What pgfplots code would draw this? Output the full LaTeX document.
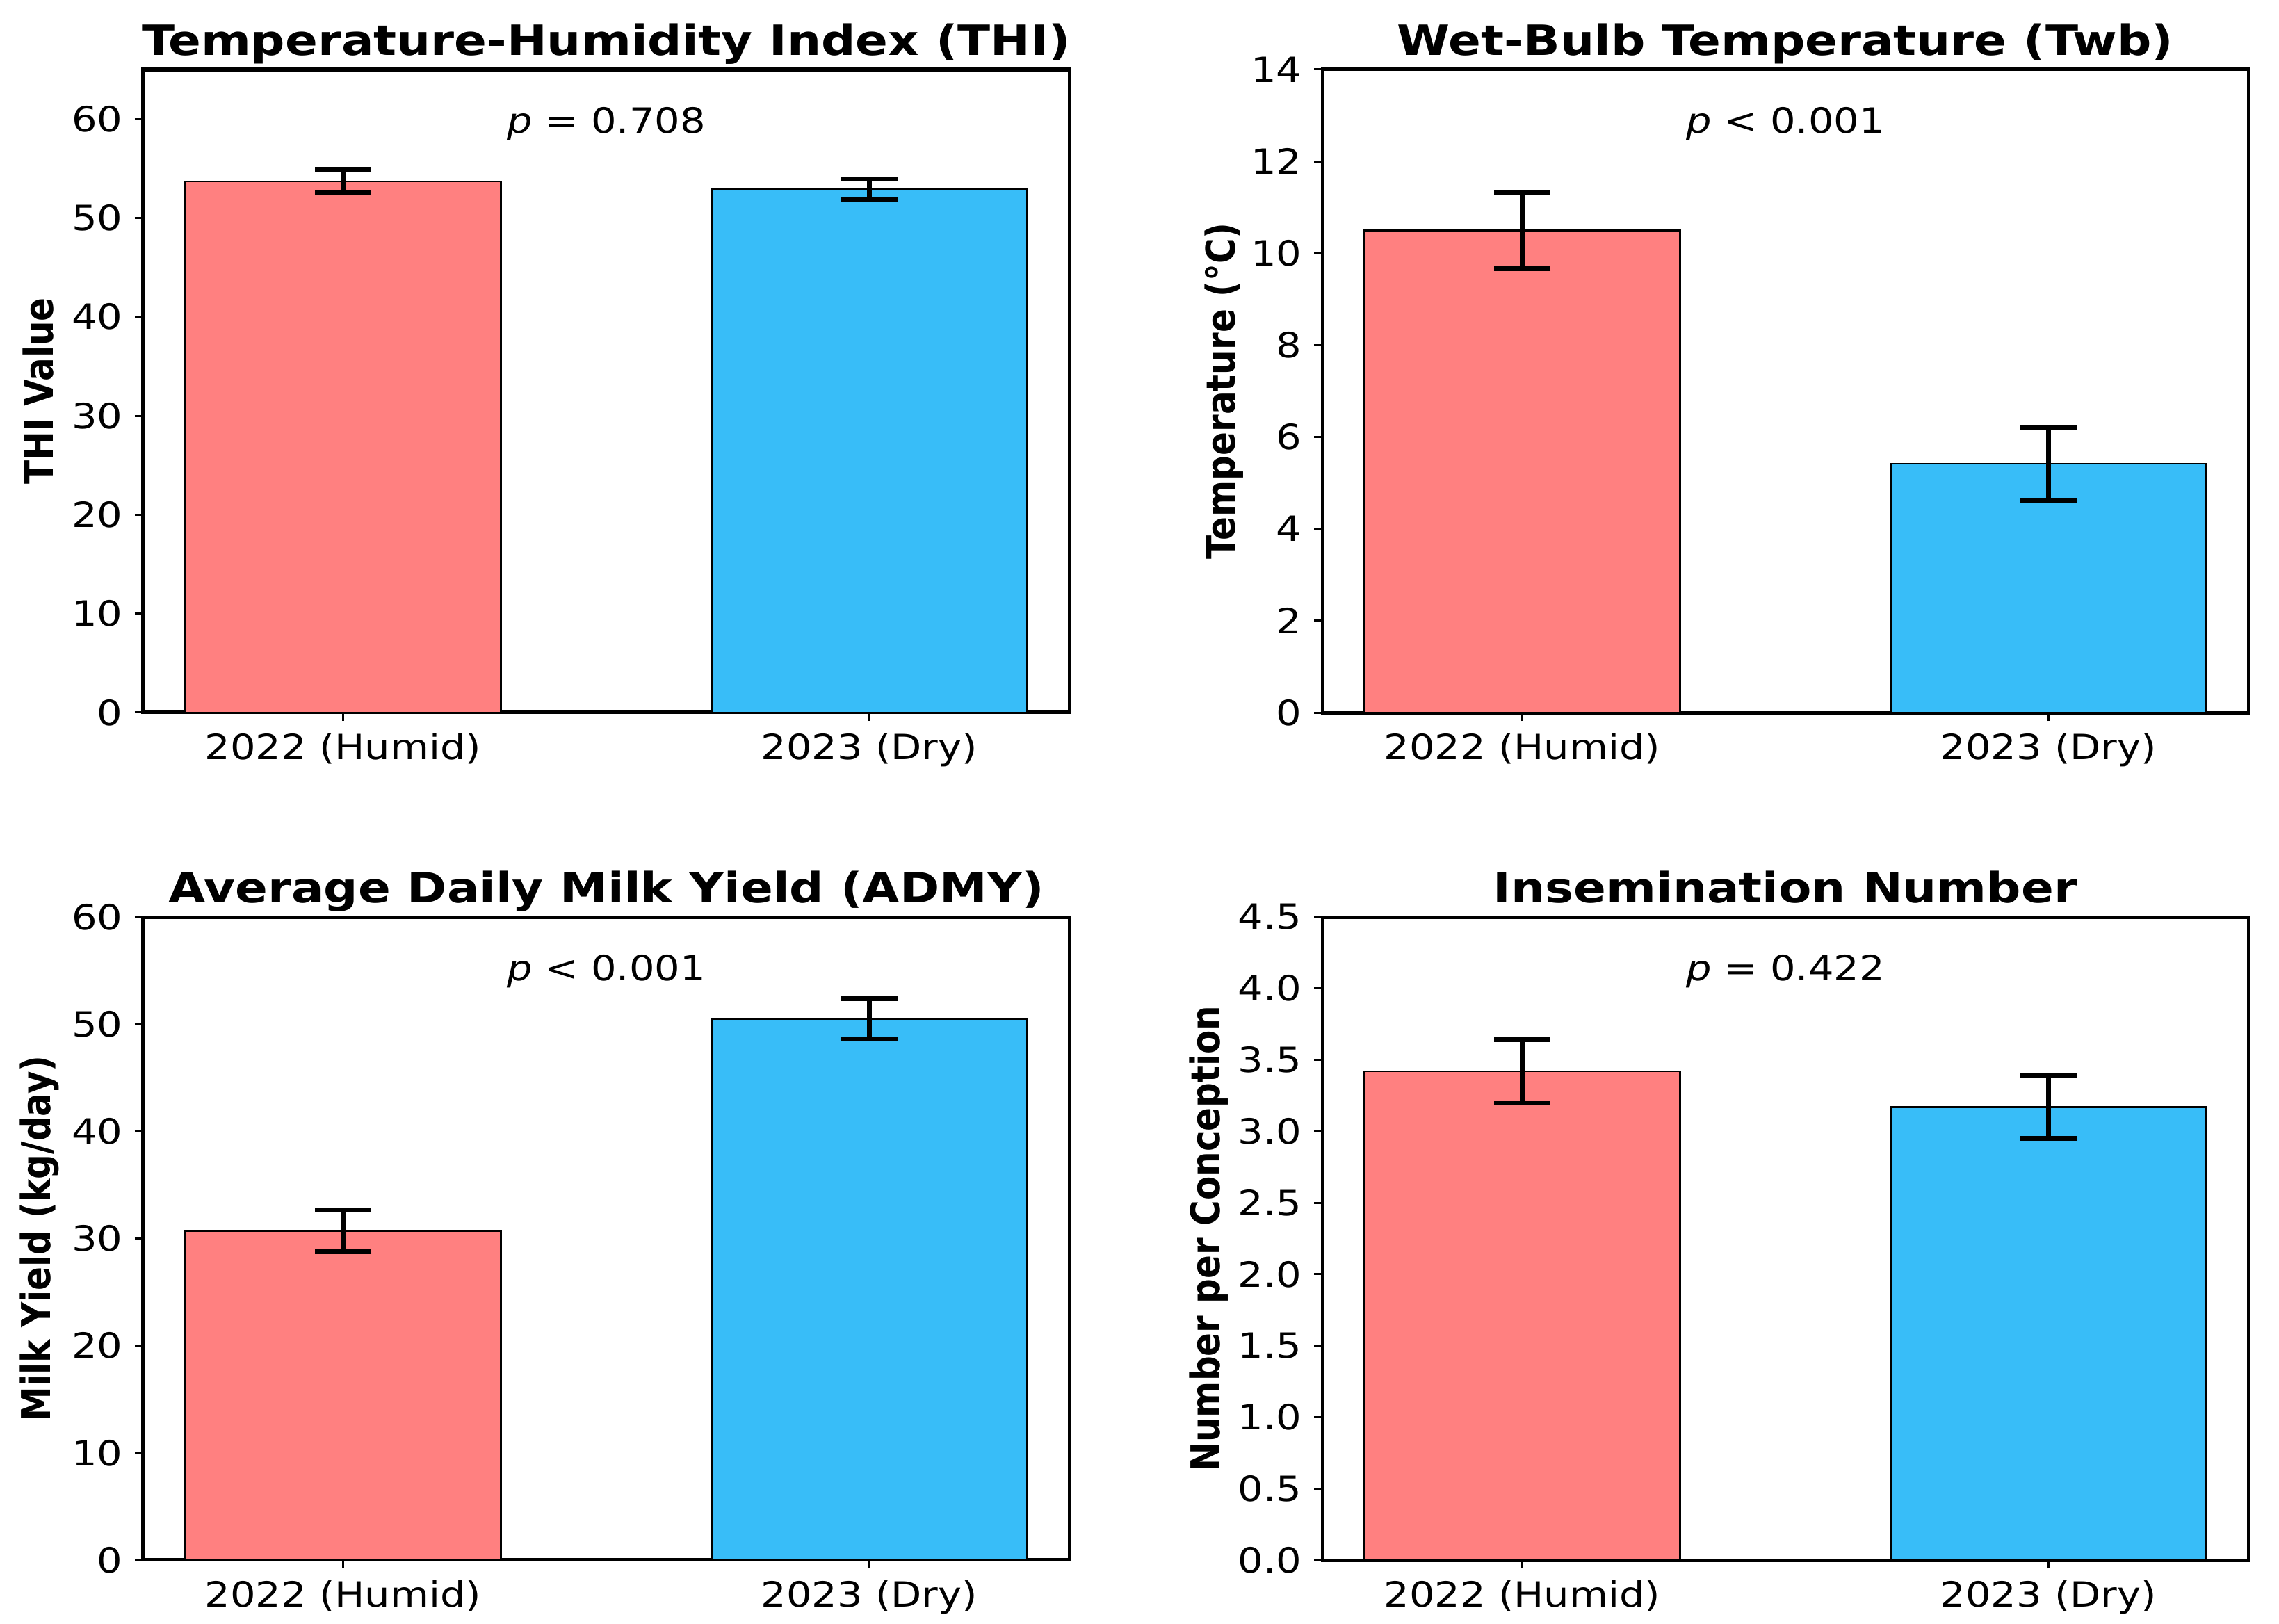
\documentclass[border=0pt]{standalone}
\usepackage{fontspec}
\setmainfont{DejaVu Sans}[FakeStretch=1.15]
\newfontfamily\labelfont{DejaVu Sans}
\usepackage{pgfplots}
\pgfplotsset{compat=1.18}

\definecolor{humid}{RGB}{255,128,128}
\definecolor{dry}{RGB}{56,189,248}

\pgfplotsset{
  panel/.style={
    scale only axis, width=266.4pt, height=185pt,
    anchor=north west,
    xmin=-0.38, xmax=1.38, ymin=0,
    xtick={0,1}, xticklabels={2022 (Humid),2023 (Dry)},
    xtick pos=bottom, ytick pos=left,
    tick align=outside, major tick length=2.4pt,
    every tick/.style={black, line width=0.6pt},
    axis line style={line width=1pt},
    tick label style={font=\fontsize{10}{12}\selectfont},
    /pgf/number format/assume math mode=true,
    every axis title/.style={font=\bfseries\fontsize{12}{14}\selectfont,
      at={(0.5,1)}, anchor=base, yshift=4.2pt, inner sep=0pt},
  },
  ylab/.style={every axis y label/.style={at={(axis description cs:0,0.5)},
      anchor=center, xshift=-#1, xscale=1.15, rotate=90,
      font=\labelfont\bfseries\fontsize{10}{12}\selectfont}},
  bars/.style={ybar, bar width=0.6, draw=black, line width=0.5pt, fill=#1,
    error bars/.cd, y dir=both, y explicit,
    error bar style={line width=1.4pt, black},
    error mark options={rotate=90, line width=1.4pt, black, mark size=8.1pt}},
}
\tikzset{ptext/.style={font=\fontsize{10}{12}\selectfont, anchor=center}}

\begin{document}
\begin{tikzpicture}
\useasboundingbox (0,0) rectangle (655.6pt,467pt);

% THI
\begin{axis}[panel, at={(41.2pt,447pt)},
  ymax=65, ytick={0,10,...,60},
  title={Temperature-Humidity Index (THI)},
  ylab=30.2pt, ylabel={THI Value}]
\addplot[bars=humid] coordinates {(0,53.7) +- (0,1.2)};
\addplot[bars=dry] coordinates {(1,52.9) +- (0,1.05)};
\node[ptext] at (rel axis cs:0.5,0.916) {\textit{p} = 0.708};
\end{axis}

% Twb
\begin{axis}[panel, at={(380.4pt,447pt)},
  ymax=14, ytick={0,2,...,14},
  title={Wet-Bulb Temperature (Twb)},
  ylab=28.2pt, ylabel={Temperature (°C)}]
\addplot[bars=humid] coordinates {(0,10.5) +- (0,0.83)};
\addplot[bars=dry] coordinates {(1,5.42) +- (0,0.8)};
\node[ptext] at (rel axis cs:0.5,0.916) {\textit{p} < 0.001};
\end{axis}

% ADMY
\begin{axis}[panel, at={(41.2pt,203.2pt)},
  ymax=60, ytick={0,10,...,60},
  title={Average Daily Milk Yield (ADMY)},
  ylab=29.8pt, ylabel={Milk Yield (kg/day)}]
\addplot[bars=humid] coordinates {(0,30.7) +- (0,1.95)};
\addplot[bars=dry] coordinates {(1,50.5) +- (0,1.9)};
\node[ptext] at (rel axis cs:0.5,0.916) {\textit{p} < 0.001};
\end{axis}

% Insemination
\begin{axis}[panel, at={(380.4pt,203.2pt)},
  ymax=4.5, ytick={0,0.5,...,4.5},
  yticklabel style={/pgf/number format/.cd, fixed, fixed zerofill, precision=1},
  title={Insemination Number},
  ylab=32.7pt, ylabel={Number per Conception}]
\addplot[bars=humid] coordinates {(0,3.42) +- (0,0.22)};
\addplot[bars=dry] coordinates {(1,3.17) +- (0,0.22)};
\node[ptext] at (rel axis cs:0.5,0.916) {\textit{p} = 0.422};
\end{axis}
\end{tikzpicture}
\end{document}
